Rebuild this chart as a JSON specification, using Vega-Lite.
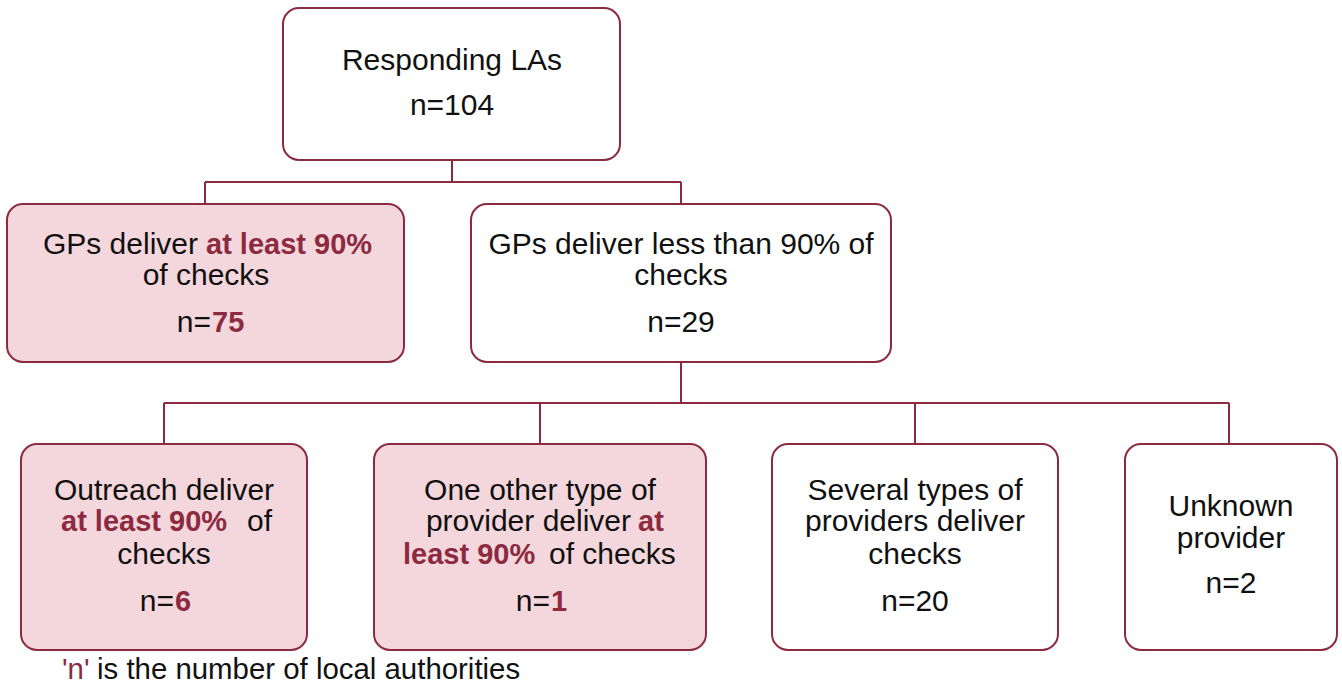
{
  "$schema": "https://vega.github.io/schema/vega-lite/v6.json",
  "width": 1342,
  "height": 687,
  "padding": 0,
  "autosize": {"type": "fit", "contains": "padding"},
  "background": "white",
  "config": {"view": {"stroke": null}, "text": {"font": "Liberation Sans", "fontSize": 30}},
  "datasets": {
    "boxes": [
      {"x": 283, "x2": 620, "y": 8, "y2": 160, "kind": "plain"},
      {"x": 7, "x2": 404, "y": 204, "y2": 362, "kind": "highlight"},
      {"x": 471, "x2": 891, "y": 204, "y2": 362, "kind": "plain"},
      {"x": 21, "x2": 307, "y": 444, "y2": 650, "kind": "highlight"},
      {"x": 374, "x2": 706, "y": 444, "y2": 650, "kind": "highlight"},
      {"x": 772, "x2": 1058, "y": 444, "y2": 650, "kind": "plain"},
      {"x": 1125, "x2": 1337, "y": 444, "y2": 650, "kind": "plain"}
    ],
    "links": [
      {"x": 452, "x2": 452, "y": 160, "y2": 182},
      {"x": 205, "x2": 681, "y": 182, "y2": 182},
      {"x": 205, "x2": 205, "y": 182, "y2": 204},
      {"x": 681, "x2": 681, "y": 182, "y2": 204},
      {"x": 681, "x2": 681, "y": 362, "y2": 403},
      {"x": 164, "x2": 1229, "y": 403, "y2": 403},
      {"x": 164, "x2": 164, "y": 403, "y2": 444},
      {"x": 540, "x2": 540, "y": 403, "y2": 444},
      {"x": 915, "x2": 915, "y": 403, "y2": 444},
      {"x": 1229, "x2": 1229, "y": 403, "y2": 444}
    ],
    "labels": [
      {"x": 452, "y": 61, "text": "Responding LAs", "role": "c"},
      {"x": 452, "y": 106, "text": "n=104", "role": "c"},
      {"x": 198, "y": 245, "text": "GPs deliver", "role": "nr"},
      {"x": 206, "y": 245, "text": "at least 90%", "role": "bl"},
      {"x": 206, "y": 276, "text": "of checks", "role": "c"},
      {"x": 211, "y": 323, "text": "n=", "role": "nr"},
      {"x": 212, "y": 323, "text": "75", "role": "bl"},
      {"x": 681, "y": 245, "text": "GPs deliver less than 90% of", "role": "c"},
      {"x": 681, "y": 276, "text": "checks", "role": "c"},
      {"x": 681, "y": 323, "text": "n=29", "role": "c"},
      {"x": 164, "y": 491, "text": "Outreach deliver", "role": "c"},
      {"x": 61, "y": 522, "text": "at least 90%", "role": "bl"},
      {"x": 247, "y": 522, "text": "of", "role": "nl"},
      {"x": 164, "y": 555, "text": "checks", "role": "c"},
      {"x": 174, "y": 602, "text": "n=", "role": "nr"},
      {"x": 175, "y": 602, "text": "6", "role": "bl"},
      {"x": 540, "y": 491, "text": "One other type of", "role": "c"},
      {"x": 631, "y": 522, "text": "provider deliver", "role": "nr"},
      {"x": 638, "y": 522, "text": "at", "role": "bl"},
      {"x": 403, "y": 555, "text": "least 90%", "role": "bl"},
      {"x": 549, "y": 555, "text": "of checks", "role": "nl"},
      {"x": 550, "y": 602, "text": "n=", "role": "nr"},
      {"x": 551, "y": 602, "text": "1", "role": "bl"},
      {"x": 915, "y": 491, "text": "Several types of", "role": "c"},
      {"x": 915, "y": 522, "text": "providers deliver", "role": "c"},
      {"x": 915, "y": 555, "text": "checks", "role": "c"},
      {"x": 915, "y": 602, "text": "n=20", "role": "c"},
      {"x": 1231, "y": 507, "text": "Unknown", "role": "c"},
      {"x": 1231, "y": 539, "text": "provider", "role": "c"},
      {"x": 1231, "y": 584, "text": "n=2", "role": "c"},
      {"x": 62, "y": 670, "text": "'n'", "role": "rl"},
      {"x": 97, "y": 670, "text": "is the number of local authorities", "role": "fl"}
    ]
  },
  "layer": [
    {
      "data": {"name": "links"},
      "mark": {"type": "rule", "stroke": "#8c2a40", "strokeWidth": 2},
      "encoding": {
        "x": {"field": "x", "type": "quantitative", "scale": {"domain": [0, 1342], "nice": false, "zero": false}, "axis": null},
        "x2": {"field": "x2"},
        "y": {"field": "y", "type": "quantitative", "scale": {"domain": [0, 687], "nice": false, "zero": false, "reverse": true}, "axis": null},
        "y2": {"field": "y2"}
      }
    },
    {
      "data": {"name": "boxes"},
      "mark": {"type": "rect", "cornerRadius": 16, "stroke": "#8c2a40", "strokeWidth": 2},
      "encoding": {
        "x": {"field": "x", "type": "quantitative", "axis": null},
        "x2": {"field": "x2"},
        "y": {"field": "y", "type": "quantitative", "axis": null},
        "y2": {"field": "y2"},
        "fill": {"field": "kind", "type": "nominal", "scale": {"domain": ["highlight", "plain"], "range": ["#f4d7dd", "#ffffff"]}, "legend": null}
      }
    },
    {
      "data": {"name": "labels"},
      "transform": [{"filter": "datum.role === 'c'"}],
      "mark": {"type": "text", "align": "center", "baseline": "middle", "color": "#111111"},
      "encoding": {
        "x": {"field": "x", "type": "quantitative", "axis": null},
        "y": {"field": "y", "type": "quantitative", "axis": null},
        "text": {"field": "text"}
      }
    },
    {
      "data": {"name": "labels"},
      "transform": [{"filter": "datum.role === 'nr'"}],
      "mark": {"type": "text", "align": "right", "baseline": "middle", "color": "#111111"},
      "encoding": {
        "x": {"field": "x", "type": "quantitative", "axis": null},
        "y": {"field": "y", "type": "quantitative", "axis": null},
        "text": {"field": "text"}
      }
    },
    {
      "data": {"name": "labels"},
      "transform": [{"filter": "datum.role === 'nl'"}],
      "mark": {"type": "text", "align": "left", "baseline": "middle", "color": "#111111"},
      "encoding": {
        "x": {"field": "x", "type": "quantitative", "axis": null},
        "y": {"field": "y", "type": "quantitative", "axis": null},
        "text": {"field": "text"}
      }
    },
    {
      "data": {"name": "labels"},
      "transform": [{"filter": "datum.role === 'fl'"}],
      "mark": {"type": "text", "align": "left", "baseline": "middle", "color": "#111111", "fontSize": 29.4},
      "encoding": {
        "x": {"field": "x", "type": "quantitative", "axis": null},
        "y": {"field": "y", "type": "quantitative", "axis": null},
        "text": {"field": "text"}
      }
    },
    {
      "data": {"name": "labels"},
      "transform": [{"filter": "datum.role === 'bl'"}],
      "mark": {"type": "text", "align": "left", "baseline": "middle", "color": "#8c2a40", "fontWeight": "bold", "fontSize": 29},
      "encoding": {
        "x": {"field": "x", "type": "quantitative", "axis": null},
        "y": {"field": "y", "type": "quantitative", "axis": null},
        "text": {"field": "text"}
      }
    },
    {
      "data": {"name": "labels"},
      "transform": [{"filter": "datum.role === 'rl'"}],
      "mark": {"type": "text", "align": "left", "baseline": "middle", "color": "#8c2a40", "fontSize": 29.4},
      "encoding": {
        "x": {"field": "x", "type": "quantitative", "axis": null},
        "y": {"field": "y", "type": "quantitative", "axis": null},
        "text": {"field": "text"}
      }
    }
  ]
}
